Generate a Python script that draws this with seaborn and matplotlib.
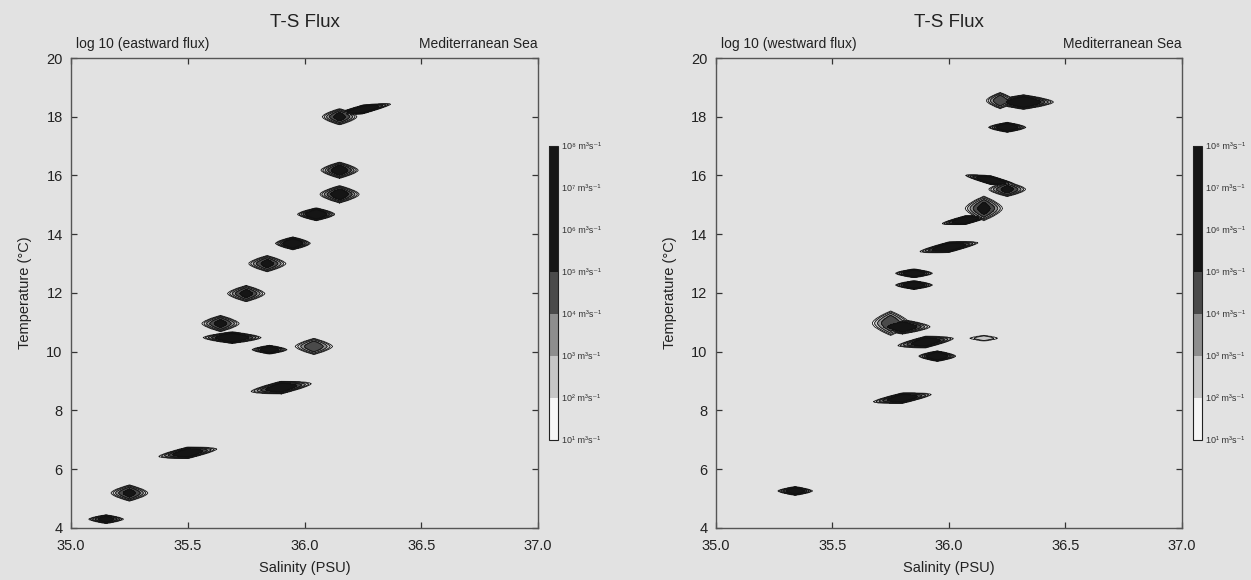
import numpy as np
import matplotlib
matplotlib.use("Agg")
import matplotlib.pyplot as plt
from matplotlib.colors import ListedColormap, BoundaryNorm
import matplotlib.colorbar as mcolorbar
import seaborn as sns

# ---- T-S flux cells: centre salinity / temperature, peak log10 flux,
#      half-spread in salinity and temperature, T-S tilt (degC per PSU)
east_sal   = [36.15, 36.25, 36.15, 36.15, 36.05, 35.95, 35.84, 35.75, 35.64, 35.69, 35.85, 36.04, 35.90, 35.50, 35.25, 35.15]
east_temp  = [18.00, 18.25, 16.18, 15.36, 14.68, 13.69, 13.00, 11.98, 10.96, 10.48, 10.07, 10.18, 8.78, 6.56, 5.19, 4.30]
east_peak  = [5.5, 7.0, 6.0, 6.0, 7.0, 7.0, 5.5, 5.5, 5.5, 7.0, 6.5, 5.0, 6.5, 6.5, 5.5, 6.0]
east_ds    = [0.075, 0.12, 0.08, 0.085, 0.08, 0.075, 0.08, 0.08, 0.08, 0.125, 0.075, 0.08, 0.13, 0.125, 0.08, 0.075]
east_dt    = [0.28, 0.15, 0.28, 0.30, 0.22, 0.22, 0.28, 0.28, 0.28, 0.20, 0.15, 0.28, 0.22, 0.20, 0.28, 0.15]
east_tilt  = [0.0, 1.5, 0.0, 0.0, 0.0, 0.0, 0.0, 0.0, 0.0, 0.0, 0.0, 0.0, 1.0, 1.0, 0.0, 0.0]

west_sal   = [36.22, 36.32, 36.25, 36.18, 36.25, 36.15, 36.07, 36.00, 35.85, 35.85, 35.75, 35.80, 35.90, 35.95, 36.15, 35.80, 35.34]
west_temp  = [18.55, 18.50, 17.64, 15.84, 15.53, 14.88, 14.48, 13.56, 12.67, 12.27, 10.97, 10.85, 10.33, 9.85, 10.46, 8.42, 5.26]
west_peak  = [5.0, 7.0, 7.0, 7.0, 5.5, 5.5, 7.0, 7.0, 7.0, 7.0, 5.0, 6.5, 6.5, 7.0, 3.0, 6.5, 6.5]
west_ds    = [0.06, 0.13, 0.08, 0.11, 0.08, 0.08, 0.10, 0.125, 0.08, 0.08, 0.08, 0.12, 0.12, 0.08, 0.06, 0.125, 0.075]
west_dt    = [0.28, 0.25, 0.17, 0.15, 0.25, 0.42, 0.15, 0.18, 0.15, 0.15, 0.42, 0.25, 0.20, 0.18, 0.10, 0.18, 0.15]
west_tilt  = [0.0, 0.0, 0.0, -1.5, 0.0, 0.0, 1.2, 1.2, 0.0, 0.0, 0.0, 0.0, 1.0, 0.0, 0.0, 1.0, 0.0]

sal_ticks  = [35.0, 35.5, 36.0, 36.5, 37.0]
temp_ticks = [4, 6, 8, 10, 12, 14, 16, 18, 20]
flux_exps  = [1, 2, 3, 4, 5, 6, 7, 8]
sup = str.maketrans("0123456789-", "⁰¹²³⁴⁵⁶⁷⁸⁹⁻")
flux_labels = [f"10{str(e).translate(sup)} m³s⁻¹" for e in flux_exps]

sns.set_theme(style="ticks")
plt.rcParams["font.family"] = ["Liberation Sans", "DejaVu Sans"]

BG = "#e2e2e2"
INK = "#333333"
band_colors = ["#f6f6f6", "#c6c6c6", "#8e8e8e", "#4a4a4a", "#151515", "#151515", "#151515"]
cmap = ListedColormap(band_colors)
norm = BoundaryNorm(flux_exps, cmap.N)

S = np.linspace(35.0, 37.0, 1001)
T = np.linspace(4.0, 20.0, 801)
SS, TT = np.meshgrid(S, T)


def flux_field(sal, temp, peak, ds, dt, tilt):
    field = np.zeros_like(SS)
    for s0, t0, p, a, b, k in zip(sal, temp, peak, ds, dt, tilt):
        u = (SS - s0) / a
        v = ((TT - t0) - k * (SS - s0)) / b
        # lens-shaped cell: pointed in salinity, rounded in temperature
        d = np.abs(u) + np.abs(v) ** 1.6
        val = 1.0 + (p - 1.0) * (1.0 - d ** 2)
        val[d > 1.0] = 0.0
        field = np.maximum(field, val)
    return field


fig = plt.figure(figsize=(12.51, 5.80), dpi=100, facecolor=BG)

panels = [
    ([0.0568, 0.0897, 0.3733, 0.8103], [0.4388, 0.2414, 0.0072, 0.5069],
     "log 10 (eastward flux)",
     (east_sal, east_temp, east_peak, east_ds, east_dt, east_tilt)),
    ([0.5723, 0.0897, 0.3725, 0.8103], [0.9536, 0.2414, 0.0072, 0.5069],
     "log 10 (westward flux)",
     (west_sal, west_temp, west_peak, west_ds, west_dt, west_tilt)),
]

for ax_rect, cb_rect, subtitle, blobs in panels:
    ax = fig.add_axes(ax_rect)
    ax.set_facecolor(BG)
    Z = flux_field(*blobs)
    ax.contourf(SS, TT, Z, levels=[1, 2, 3, 4, 5, 8.5],
                colors=band_colors[:5])
    ax.contour(SS, TT, Z, levels=[1, 2, 3, 4, 5],
               colors="#111111", linewidths=0.6)
    ax.set_xlim(35.0, 37.0)
    ax.set_ylim(4, 20)
    ax.set_xticks(sal_ticks)
    ax.set_xticklabels([f"{v:.1f}" for v in sal_ticks])
    ax.set_yticks(temp_ticks)
    ax.tick_params(direction="in", length=4, width=0.9, colors=INK,
                   labelcolor="#222222", labelsize=10.5,
                   top=True, right=True)
    ax.tick_params(axis="x", pad=8)
    ax.tick_params(axis="y", pad=6)
    for sp in ax.spines.values():
        sp.set_visible(True)
        sp.set_color("#555555")
        sp.set_linewidth(1.0)
    ax.set_xlabel("Salinity (PSU)", fontsize=10.5, color="#222222", labelpad=6)
    ax.set_ylabel("Temperature (°C)", fontsize=10.5, color="#222222", labelpad=10)
    ax.set_title("T-S Flux", fontsize=13.5, color="#222222", pad=22)
    ax.text(0.01, 1.015, subtitle, transform=ax.transAxes,
            ha="left", va="bottom", fontsize=10, color="#222222")
    ax.text(1.0, 1.015, "Mediterranean Sea", transform=ax.transAxes,
            ha="right", va="bottom", fontsize=10, color="#222222")

    cax = fig.add_axes(cb_rect)
    cb = mcolorbar.ColorbarBase(cax, cmap=cmap, norm=norm,
                                boundaries=flux_exps, ticks=flux_exps,
                                orientation="vertical")
    cb.set_ticklabels(flux_labels)
    cb.outline.set_edgecolor("#222222")
    cb.outline.set_linewidth(0.8)
    cax.tick_params(length=0, labelsize=6.5, labelcolor="#333333", pad=3)

fig.savefig("out.png", dpi=100, facecolor=BG)
